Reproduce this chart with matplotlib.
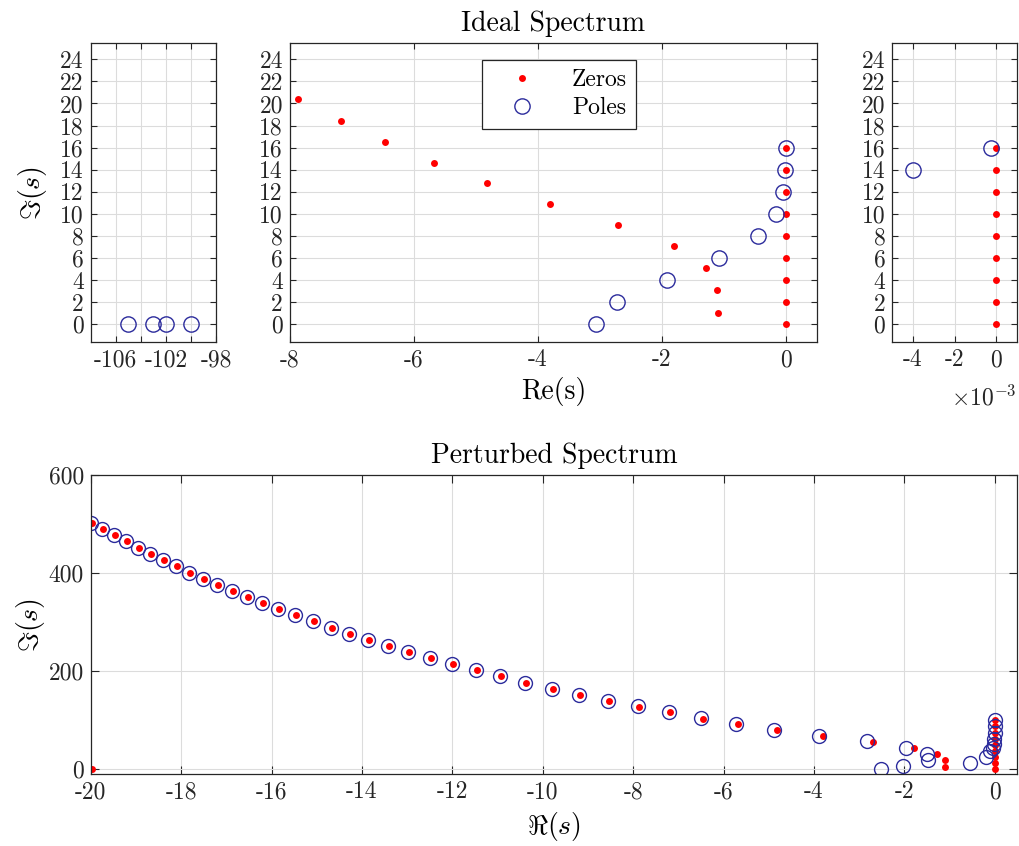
import matplotlib
matplotlib.use("Agg")
import matplotlib.pyplot as plt

plt.rcParams['font.family'] = 'serif'
plt.rcParams['font.serif'] = ['cmr10']
plt.rcParams['mathtext.fontset'] = 'cm'
plt.rcParams['axes.unicode_minus'] = False
plt.rcParams['axes.formatter.use_mathtext'] = True

# ---------------- Ideal spectrum data ----------------
ideal_zero_re = [-7.87, -7.17, -6.46, -5.68, -4.82, -3.80, -2.71, -1.80, -1.28, -1.11, -1.10,
                 0, 0, 0, 0, 0, 0, 0, 0, 0]
ideal_zero_im = [20.38, 18.44, 16.54, 14.64, 12.77, 10.90, 8.99, 7.09, 5.10, 3.08, 1.02,
                 0, 2, 4, 6, 8, 10, 12, 14, 16]
ideal_pole_re = [-105.0, -103.0, -102.0, -100.0, -3.06, -2.72, -1.92, -1.07, -0.45, -0.15,
                 -0.036, -0.004, -0.00025]
ideal_pole_im = [0, 0, 0, 0, 0, 2, 4, 6, 8, 10, 12, 14, 16]

# ---------------- Perturbed spectrum data ----------------
pert_zero_re = [-19.97, -19.72, -19.46, -19.20, -18.94, -18.67, -18.38, -18.10, -17.80, -17.50,
                -17.18, -16.86, -16.52, -16.18, -15.83, -15.45, -15.07, -14.67, -14.26, -13.84,
                -13.41, -12.95, -12.48, -11.98, -11.46, -10.92, -10.37, -9.78, -9.17, -8.54,
                -7.87, -7.18, -6.46, -5.68, -4.82, -3.79, -2.70, -1.79, -1.28, -1.10, -1.09,
                0, 0, 0, 0, 0, 0, 0, 0, 0, -19.98]
pert_zero_im = [502, 490, 477, 465, 452, 439.5, 427, 414, 401, 389,
                376, 364, 351, 338.5, 326, 314, 301.6, 288.7, 276, 264,
                251.5, 239, 226.5, 214, 202, 189.6, 176.7, 164.4, 152, 140,
                128, 116, 103.6, 92, 80, 67.6, 56.5, 43.6, 31.3, 19, 5.3,
                0, 12.5, 25, 37.5, 50, 62.5, 75, 87.5, 100, 0]
pert_pole_re = [-19.99, -19.74, -19.48, -19.22, -18.96, -18.69, -18.40, -18.12, -17.82, -17.52,
                -17.20, -16.88, -16.54, -16.20, -15.85, -15.47, -15.09, -14.69, -14.28, -13.86,
                -13.43, -12.97, -12.50, -12.00, -11.48, -10.94, -10.39, -9.80, -9.19, -8.56,
                -7.89, -7.21, -6.50, -5.72, -4.88, -3.88, -2.82, -1.96, -1.50, -1.48,
                -2.03, -2.51, -0.54, -0.19, -0.10, -0.04, -0.02, -0.01, 0.0, 0.0, 0.0]
pert_pole_im = [502, 490, 477, 465, 452, 439.5, 427, 414, 401, 389,
                376, 364, 351, 338.5, 326, 314, 301.6, 288.7, 276, 264,
                251.5, 239, 226.5, 214, 202, 189.6, 176.7, 164.4, 152, 140,
                128.5, 116.5, 104.5, 93, 81, 69, 57, 44.5, 32, 19.5,
                7, 0, 12.5, 25, 37, 44, 52, 62.5, 75, 87.5, 100]

top_yticks = list(range(0, 25, 2))
left_xticks = [-106, -104, -102, -100, -98]
left_xticklabels = ['-106', '', '-102', '', '-98']
mid_xticks = [-8, -6, -4, -2, 0]
right_xticks = [-4e-3, -2e-3, 0]
right_xticklabels = ['-4', '-2', '0']
bot_xticks = list(range(-20, 1, 2))
bot_yticks = [0, 200, 400, 600]

W, H = 1019, 846
fig = plt.figure(figsize=(W / 100, H / 100), dpi=100)

def rect(x0, x1, ytop, ybot):
    return [x0 / W, 1 - ybot / H, (x1 - x0) / W, (ybot - ytop) / H]

ax_l = fig.add_axes(rect(90.7, 216, 43.3, 342.3))
ax_m = fig.add_axes(rect(290, 816.7, 43.3, 342.3))
ax_r = fig.add_axes(rect(892.3, 1016.7, 43.3, 342.3))
ax_b = fig.add_axes(rect(90.7, 1017.3, 475, 774.3))

zc = '#ff0000'
pc = '#2b2b9c'
spine_c = '#262626'
fs = 17      # tick labels
lfs = 20     # labels / titles

def style(ax, ticklen):
    for s in ax.spines.values():
        s.set_color(spine_c)
        s.set_linewidth(0.9)
    ax.tick_params(direction='in', top=True, right=True, length=ticklen, width=0.8,
                   colors=spine_c, labelcolor='#262626', labelsize=fs, pad=5)
    ax.grid(True, color='#dcdcdc', linewidth=0.8)
    ax.set_axisbelow(True)

for ax in (ax_l, ax_m, ax_r):
    ax.plot(ideal_zero_re, ideal_zero_im, 'o', color=zc, markersize=5, markeredgewidth=0,
            linestyle='none', label='Zeros')
    ax.plot(ideal_pole_re, ideal_pole_im, 'o', markerfacecolor='none', markeredgecolor=pc,
            markersize=11, markeredgewidth=1.0, linestyle='none', label='Poles')
    ax.set_ylim(-1.63, 25.45)
    ax.set_yticks(top_yticks)
    ax.set_yticklabels([str(v) for v in top_yticks])
    style(ax, 4.5)

ax_l.set_xlim(-108, -98)
ax_l.set_xticks(left_xticks)
ax_l.set_xticklabels(left_xticklabels)
ax_l.set_ylabel(r'$\Im(s)$', fontsize=lfs, labelpad=8)

ax_m.set_xlim(-8, 0.5)
ax_m.set_xticks(mid_xticks)
ax_m.set_xticklabels([str(v) for v in mid_xticks])
ax_m.set_xlabel('Re(s)', fontsize=lfs)
ax_m.set_title('Ideal Spectrum', fontsize=lfs, pad=9)
leg = ax_m.legend(loc='upper left', bbox_to_anchor=(0.3645, 0.945), fontsize=fs,
                  frameon=True, fancybox=False, edgecolor='#262626', framealpha=1,
                  borderpad=0.4, handletextpad=0.8, labelspacing=0.25, handlelength=2.6,
                  borderaxespad=0)
leg.get_frame().set_linewidth(0.9)

ax_r.set_xlim(-5e-3, 1e-3)
ax_r.set_xticks(right_xticks)
ax_r.set_xticklabels(right_xticklabels)
ax_r.text(1.0, -0.145, r'$\times10^{-3}$', transform=ax_r.transAxes, ha='right', va='top',
          fontsize=fs, color='#262626')

ax_b.plot(pert_zero_re, pert_zero_im, 'o', color=zc, markersize=5, markeredgewidth=0,
          linestyle='none')
ax_b.plot(pert_pole_re, pert_pole_im, 'o', markerfacecolor='none', markeredgecolor=pc,
          markersize=10, markeredgewidth=1.0, linestyle='none')
ax_b.set_xlim(-20, 0.5)
ax_b.set_ylim(-10, 600)
ax_b.set_xticks(bot_xticks)
ax_b.set_xticklabels([str(v) for v in bot_xticks])
ax_b.set_yticks(bot_yticks)
ax_b.set_yticklabels([str(v) for v in bot_yticks])
style(ax_b, 6)
ax_b.set_xlabel(r'$\Re(s)$', fontsize=lfs, labelpad=5)
ax_b.set_ylabel(r'$\Im(s)$', fontsize=lfs, labelpad=1)
ax_b.set_title('Perturbed Spectrum', fontsize=lfs, pad=9)

fig.savefig('out.png', dpi=100)
